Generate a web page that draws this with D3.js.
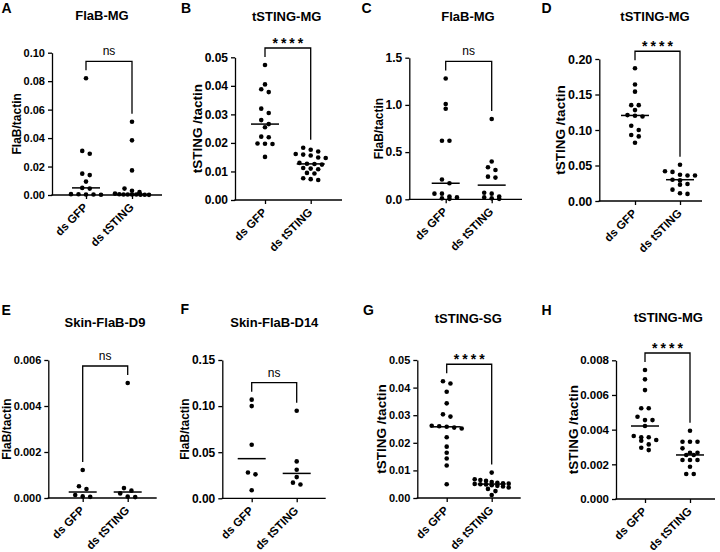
<!DOCTYPE html>
<html>
<head>
<meta charset="utf-8">
<script src="https://cdn.jsdelivr.net/npm/d3@7"></script>
<style>
body { margin: 0; background: #fff; }
svg text { font-family: "Liberation Sans", Arial, sans-serif; fill: #000; }
</style>
</head>
<body>
<div id="chart"></div>
<script>
var categories = ["ds GFP", "ds tSTING"];

// values (ratio to tactin)
var gfpA = [0.082, 0.031, 0.029, 0.015, 0.014, 0.0094, 0.005, 0.0045, 0.0006, 0.0005, 0.0004, 0.0003, 0.0002];
var stingA = [0.0515, 0.0384, 0.0173, 0.0045, 0.003, 0.002, 0.001, 0.0005, 0.0004, 0.0004, 0.0003, 0.0003, 0.0002, 0.0002, 0.0001];
var gfpB = [0.0473, 0.0405, 0.0388, 0.0378, 0.0320, 0.0305, 0.0280, 0.0266, 0.0255, 0.0222, 0.0220, 0.0198, 0.0197, 0.0196, 0.0151];
var stingB = [0.0183, 0.0176, 0.0170, 0.0161, 0.0159, 0.0156, 0.0149, 0.0147, 0.0130, 0.0127, 0.0126, 0.0124, 0.0112, 0.0110, 0.0108, 0.0095, 0.0093, 0.0076, 0.0073, 0.0070];
var gfpC = [1.28, 1.01, 0.96, 0.62, 0.62, 0.21, 0.17, 0.06, 0.06, 0.03, 0.02, 0.01, 0.005];
var stingC = [0.85, 0.40, 0.34, 0.31, 0.24, 0.23, 0.07, 0.06, 0.03, 0.02, 0.01, 0.005];
var gfpD = [0.187, 0.164, 0.154, 0.135, 0.135, 0.128, 0.121, 0.120, 0.119, 0.106, 0.100, 0.093, 0.091, 0.082];
var stingD = [0.051, 0.042, 0.041, 0.037, 0.036, 0.036, 0.030, 0.029, 0.024, 0.023, 0.016, 0.011, 0.010];
var gfpE = [0.00122, 0.00051, 0.00039, 0.00013, 0.00007, 0.00005];
var stingE = [0.0050, 0.00043, 0.00032, 0.00020, 0.00006, 0.00004];
var gfpF = [0.107, 0.100, 0.058, 0.028, 0.026, 0.0087];
var stingF = [0.095, 0.040, 0.031, 0.023, 0.017, 0.015];
var gfpG = [0.0423, 0.0415, 0.0385, 0.0343, 0.0303, 0.0295, 0.0262, 0.0260, 0.0258, 0.0255, 0.0252, 0.0220, 0.0186, 0.0164, 0.0143, 0.0118, 0.0050];
var stingG = [0.0092, 0.0068, 0.0065, 0.0062, 0.0058, 0.0055, 0.0053, 0.0052, 0.0051, 0.0050, 0.0049, 0.0046, 0.0044, 0.0042, 0.0038, 0.0033, 0.0025, 0.0011];
var gfpH = [0.00744, 0.0069, 0.00628, 0.00523, 0.00523, 0.00474, 0.00455, 0.00455, 0.00421, 0.00363, 0.00356, 0.00356, 0.0034, 0.00336, 0.00315, 0.00296, 0.00282];
var stingH = [0.00394, 0.0033, 0.0033, 0.0033, 0.00292, 0.00267, 0.00267, 0.00254, 0.00254, 0.00225, 0.00225, 0.00225, 0.00186, 0.00144, 0.00144];

var ticksA = [0, 0.02, 0.04, 0.06, 0.08, 0.10];
var ticksB = [0, 0.01, 0.02, 0.03, 0.04, 0.05];
var ticksC = [0, 0.5, 1.0, 1.5];
var ticksD = [0, 0.05, 0.10, 0.15, 0.20];
var ticksE = [0, 0.002, 0.004, 0.006];
var ticksF = [0, 0.05, 0.10, 0.15];
var ticksG = [0, 0.01, 0.02, 0.03, 0.04, 0.05];
var ticksH = [0, 0.002, 0.004, 0.006, 0.008];

var letters = ["A", "B", "C", "D", "E", "F", "G", "H"];
var titles = ["FlaB-MG", "tSTING-MG", "FlaB-MG", "tSTING-MG", "Skin-FlaB-D9", "Skin-FlaB-D14", "tSTING-SG", "tSTING-MG"];
var yLabels = ["FlaB/tactin", "tSTING /tactin", "FlaB/tactin", "tSTING /tactin", "FlaB/tactin", "FlaB/tactin", "tSTING /tactin", "tSTING /tactin"];
var signif = ["ns", "****", "ns", "****", "ns", "ns", "****", "****"];

var groups = [[gfpA, stingA], [gfpB, stingB], [gfpC, stingC], [gfpD, stingD],
              [gfpE, stingE], [gfpF, stingF], [gfpG, stingG], [gfpH, stingH]];
var ticks = [ticksA, ticksB, ticksC, ticksD, ticksE, ticksF, ticksG, ticksH];
var formats = [".2f", ".2f", ".1f", ".2f", ".3f", ".2f", ".2f", ".3f"];

// panel placement on the page (fs = tick label size)
var layout = [
    { axis: 52,    top: 52.7,  bottom: 195,   right: 162,   cats: [86, 132],      tx: 102,   ty: 19.5,  lx: 1.5,   ly: 13,    fs: 11 },
    { axis: 235,   top: 57.3,  bottom: 200,   right: 342,   cats: [265, 310.7],   tx: 286.7, ty: 20.5,  lx: 181,   ly: 13,    fs: 12 },
    { axis: 409.3, top: 57.7,  bottom: 199.3, right: 522,   cats: [445.7, 491.7], tx: 468,   ty: 21,    lx: 361.5, ly: 13,    fs: 12 },
    { axis: 599.3, top: 59,    bottom: 201,   right: 702,   cats: [635, 680],     tx: 655,   ty: 21,    lx: 541.5, ly: 13,    fs: 12.5 },
    { axis: 48.3,  top: 360,   bottom: 498,   right: 156.7, cats: [82.7, 127.7],  tx: 105,   ty: 327,   lx: 1.5,   ly: 315,   fs: 11 },
    { axis: 222.3, top: 360,   bottom: 498.3, right: 325.7, cats: [251.7, 296.7], tx: 274.3, ty: 326.5, lx: 180.5, ly: 313.5, fs: 12 },
    { axis: 417.3, top: 360,   bottom: 498,   right: 520.7, cats: [446.7, 491.7], tx: 468.3, ty: 322.7, lx: 363,   ly: 314.5, fs: 11 },
    { axis: 616,   top: 360.3, bottom: 499,   right: 715,   cats: [645, 690],     tx: 668.3, ty: 322,   lx: 541.5, ly: 315,   fs: 11.5 }
];

var svg = d3.select("#chart").append("svg")
    .attr("width", 720)
    .attr("height", 552);

// GraphPad-like scatter: points close in y are put side by side in a row
function swarm(vals, y, cx) {
    var pts = vals.map(function(v) { return { v: v, py: y(v) }; })
        .sort(function(a, b) { return a.py - b.py; });
    var rows = [], cur = null;
    pts.forEach(function(p) {
        if (cur && p.py - cur[0].py < 4.5) cur.push(p);
        else { cur = [p]; rows.push(cur); }
    });
    rows.forEach(function(r) {
        var step = r.length > 1 ? Math.min(7.5, 34 / (r.length - 1)) : 0;
        r.forEach(function(p, i) { p.px = cx + (i - (r.length - 1) / 2) * step; });
    });
    return pts;
}

letters.forEach(function(letter, k) {
    var L = layout[k];
    var g = svg.append("g");

    var y = d3.scaleLinear().domain([0, d3.max(ticks[k])]).range([L.bottom, L.top]);
    var x = d3.scalePoint().domain(categories).range(L.cats);

    // y axis
    var yAxis = g.append("g")
        .attr("transform", "translate(" + L.axis + ",0)")
        .call(d3.axisLeft(y).tickValues(ticks[k]).tickFormat(d3.format(formats[k]))
            .tickSize(4).tickSizeOuter(0).tickPadding(3));
    yAxis.selectAll("path, line").attr("stroke", "#000").attr("stroke-width", 1.3);
    yAxis.selectAll("text")
        .style("font-size", L.fs + "px")
        .style("font-weight", "bold")
        .attr("fill", "#000");

    // x axis
    var xAxis = g.append("g")
        .attr("transform", "translate(0," + L.bottom + ")")
        .call(d3.axisBottom(x).tickSize(4));
    xAxis.select(".domain").remove();
    xAxis.append("line")
        .attr("x1", L.axis - 0.65)
        .attr("x2", L.right)
        .attr("stroke", "#000")
        .attr("stroke-width", 1.3);
    xAxis.selectAll("line").attr("stroke", "#000").attr("stroke-width", 1.3);
    xAxis.selectAll(".tick text")
        .attr("x", 0).attr("y", 0).attr("dy", null)
        .attr("text-anchor", "end")
        .attr("transform", "translate(2,13) rotate(-45)")
        .attr("fill", "#000")
        .style("font-size", "11.5px")
        .style("font-weight", "bold");

    // y label, just left of the tick labels
    var bb = yAxis.node().getBBox();
    var labelX = L.axis + bb.x - 2.5;
    g.append("text")
        .attr("transform", "translate(" + labelX + "," + (L.top + L.bottom) / 2 + ") rotate(-90)")
        .attr("text-anchor", "middle")
        .style("font-size", yLabels[k] === "FlaB/tactin" ? "12px" : "13.5px")
        .style("font-weight", "bold")
        .text(yLabels[k]);

    // title and panel letter
    g.append("text")
        .attr("x", L.tx).attr("y", L.ty)
        .attr("text-anchor", "middle")
        .style("font-size", "13px")
        .style("font-weight", "bold")
        .text(titles[k]);
    g.append("text")
        .attr("x", L.lx).attr("y", L.ly)
        .style("font-size", "14px")
        .style("font-weight", "bold")
        .text(letter);

    // dots and median lines
    groups[k].forEach(function(vals, j) {
        var cx = x(categories[j]);
        var pts = swarm(vals, y, cx);
        g.selectAll(".dot" + j)
            .data(pts)
            .enter().append("circle")
            .attr("cx", function(d) { return d.px; })
            .attr("cy", function(d) { return d.py; })
            .attr("r", 2.3)
            .attr("fill", "#000");
        var med = d3.median(vals);
        g.append("line")
            .attr("x1", cx - 14).attr("x2", cx + 14)
            .attr("y1", y(med)).attr("y2", y(med))
            .attr("stroke", "#000")
            .attr("stroke-width", 1.5);
    });

    // significance bracket
    var c1 = x(categories[0]), c2 = x(categories[1]);
    var legL = y(d3.max(groups[k][0])) - 8;
    var legR = y(d3.max(groups[k][1])) - 8;
    var top = Math.min(legL, legR) - 9;
    g.append("path")
        .attr("d", "M" + c1 + "," + legL + "V" + top + "H" + c2 + "V" + legR)
        .attr("fill", "none")
        .attr("stroke", "#000")
        .attr("stroke-width", 1.3);

    var star = signif[k] !== "ns";
    g.append("text")
        .attr("x", (c1 + c2) / 2 + (star ? 1.5 : 0))
        .attr("y", star ? top - 0.5 : top - 6)
        .attr("text-anchor", "middle")
        .style("font-size", star ? "14px" : "12px")
        .style("font-weight", star ? "bold" : "normal")
        .style("letter-spacing", star ? "3px" : null)
        .text(signif[k]);
});
</script>
</body>
</html>
